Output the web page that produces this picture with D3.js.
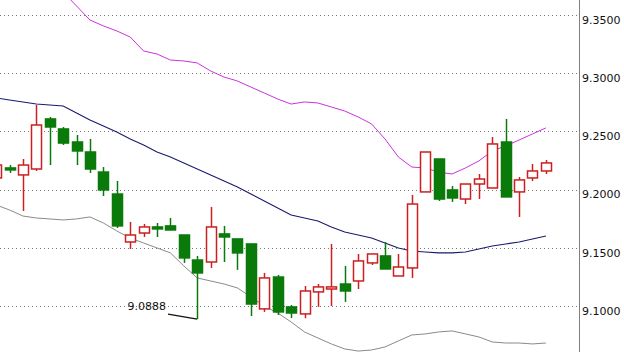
<!DOCTYPE html>
<html>
<head>
<meta charset="utf-8">
<script src="https://cdn.jsdelivr.net/npm/d3@7"></script>
<style>
  body { margin: 0; background: #fff; }
  svg { display: block; }
  .tick text, .note { font-family: "DejaVu Sans", sans-serif; font-size: 11px; fill: #111; }
</style>
</head>
<body>
<div class="chart"></div>
<script>
// candles, oldest first (first one is cut off at the left edge)
var bars = d3.range(42);
var open  = [9.2100, 9.2186, 9.2126, 9.2177, 9.2607, 9.2521, 9.2409, 9.2323, 9.2151, 9.1962,
             9.1550, 9.1627, 9.1679, 9.1688, 9.1610, 9.1395, 9.1378, 9.1619, 9.1576, 9.1533,
             9.0975, 9.1249, 9.0992, 9.0932, 9.1121, 9.1146, 9.1189, 9.1215, 9.1370, 9.1430,
             9.1258, 9.1327, 9.1980, 9.2263, 9.1997, 9.1919, 9.2048, 9.2014, 9.2409, 9.1980,
             9.2100, 9.2160];
var high  = [9.2237, 9.2211, 9.2263, 9.2727, 9.2624, 9.2538, 9.2469, 9.2435, 9.2194, 9.2074,
             9.1722, 9.1705, 9.1713, 9.1756, 9.1610, 9.1430, 9.1851, 9.1688, 9.1576, 9.1533,
             9.1284, 9.1267, 9.1009, 9.1172, 9.1189, 9.1533, 9.1344, 9.1447, 9.1447, 9.1550,
             9.1447, 9.1954, 9.2323, 9.2263, 9.2031, 9.2048, 9.2134, 9.2452, 9.2607, 9.2108,
             9.2220, 9.2254];
var low   = [9.2074, 9.2143, 9.1816, 9.2160, 9.2211, 9.2383, 9.2211, 9.2143, 9.1945, 9.1670,
             9.1490, 9.1593, 9.1593, 9.1653, 9.1370, 9.0888, 9.1327, 9.1378, 9.1310, 9.0914,
             9.0949, 9.0923, 9.0897, 9.0895, 9.0992, 9.1000, 9.1035, 9.1146, 9.1352, 9.1318,
             9.1258, 9.1241, 9.1980, 9.1902, 9.1894, 9.1876, 9.1919, 9.2014, 9.1937, 9.1765,
             9.2074, 9.2134];
var close = [9.2211, 9.2169, 9.2211, 9.2555, 9.2538, 9.2400, 9.2332, 9.2177, 9.1997, 9.1688,
             9.1610, 9.1679, 9.1662, 9.1653, 9.1413, 9.1284, 9.1679, 9.1593, 9.1456, 9.1017,
             9.1241, 9.0949, 9.0940, 9.1129, 9.1164, 9.1164, 9.1129, 9.1387, 9.1447, 9.1318,
             9.1335, 9.1876, 9.2323, 9.1919, 9.1928, 9.2048, 9.2091, 9.2392, 9.1937, 9.2083,
             9.2160, 9.2229];

// bollinger bands
var upper  = [9.4187, 9.4101, 9.4015, 9.3930, 9.3818, 9.3698, 9.3577, 9.3457, 9.3406, 9.3363,
              9.3311, 9.3191, 9.3165, 9.3113, 9.3105, 9.3088, 9.3019, 9.2967, 9.2933, 9.2881,
              9.2830, 9.2778, 9.2735, 9.2753, 9.2744, 9.2710, 9.2675, 9.2624, 9.2564, 9.2435,
              9.2280, 9.2194, 9.2186, 9.2151, 9.2134, 9.2186, 9.2246, 9.2332, 9.2375, 9.2426,
              9.2478, 9.2530];
var middle = [9.2787, 9.2770, 9.2753, 9.2735, 9.2727, 9.2718, 9.2658, 9.2598, 9.2547, 9.2495,
              9.2435, 9.2383, 9.2323, 9.2280, 9.2229, 9.2177, 9.2126, 9.2074, 9.2023, 9.1962,
              9.1902, 9.1842, 9.1782, 9.1756, 9.1730, 9.1679, 9.1636, 9.1610, 9.1584, 9.1541,
              9.1499, 9.1473, 9.1464, 9.1456, 9.1456, 9.1464, 9.1490, 9.1516, 9.1533, 9.1550,
              9.1576, 9.1602];
var lower  = [9.1868, 9.1825, 9.1773, 9.1756, 9.1748, 9.1739, 9.1748, 9.1765, 9.1713, 9.1645,
              9.1584, 9.1541, 9.1499, 9.1456, 9.1344, 9.1241, 9.1215, 9.1189, 9.1155, 9.1078,
              9.1000, 9.0940, 9.0863, 9.0777, 9.0725, 9.0674, 9.0631, 9.0613, 9.0622, 9.0648,
              9.0700, 9.0751, 9.0760, 9.0777, 9.0786, 9.0760, 9.0734, 9.0691, 9.0682, 9.0682,
              9.0674, 9.0682];

var yTicks = [9.1000, 9.1500, 9.2000, 9.2500, 9.3000, 9.3500];
var lowLabel = "9.0888";
var lowBar = 15;

var Width = 624, Height = 352, axisX = 579;

var svg = d3.select(".chart").append("svg")
    .attr("width", Width)
    .attr("height", Height);

var x = d3.scaleBand()
    .domain(bars)
    .range([-10.6, 552.6])
    .padding(0);

var y = d3.scaleLinear()
    .domain([9.10, 9.35])
    .range([306, 15]);

var cx = function(i) { return x(i) + x.bandwidth() / 2; };

// dotted grid
svg.append("g")
  .selectAll("line")
  .data(yTicks)
  .join("line")
    .attr("x1", 0)
    .attr("x2", axisX)
    .attr("y1", d => Math.round(y(d)) + 0.5)
    .attr("y2", d => Math.round(y(d)) + 0.5)
    .attr("stroke", "#777")
    .attr("stroke-dasharray", "1,3");

// right axis
var axis = svg.append("g")
    .attr("transform", "translate(" + axisX + ",0)")
    .call(d3.axisRight(y)
      .tickValues(yTicks)
      .tickSize(0)
      .tickPadding(3)
      .tickFormat(d3.format(".4f")));
axis.select(".domain").remove();
axis.selectAll(".tick text").attr("dy", "0.75em");
svg.append("line")
    .attr("x1", axisX + 0.5).attr("x2", axisX + 0.5)
    .attr("y1", 0).attr("y2", Height)
    .attr("stroke", "#808080");

var plot = svg.append("g");

// bands
var band = function(vals) {
  return d3.line()
    .x((d, i) => cx(i))
    .y(d => y(d))(vals);
};
plot.append("path").attr("d", band(upper))
    .attr("fill", "none").attr("stroke", "#cc33dd").attr("stroke-width", 1);
plot.append("path").attr("d", band(middle))
    .attr("fill", "none").attr("stroke", "#1a1a6e").attr("stroke-width", 1.1);
plot.append("path").attr("d", band(lower))
    .attr("fill", "none").attr("stroke", "#8a8a8a").attr("stroke-width", 1);

// candles
var red = "#cc1f1f", green = "#0a7a0a";
var bw = 10;
var candle = plot.selectAll("g.candle")
  .data(bars)
  .join("g")
    .attr("class", "candle");

candle.append("line")
    .attr("x1", i => Math.round(cx(i)) + 0.5)
    .attr("x2", i => Math.round(cx(i)) + 0.5)
    .attr("y1", i => y(high[i]))
    .attr("y2", i => y(low[i]))
    .attr("stroke", i => close[i] >= open[i] ? red : green)
    .attr("stroke-width", 1.5);

candle.append("rect")
    .attr("x", i => Math.round(cx(i)) + 0.5 - bw / 2)
    .attr("width", bw)
    .attr("y", i => y(Math.max(open[i], close[i])))
    .attr("height", i => Math.max(1.5, Math.abs(y(open[i]) - y(close[i]))))
    .attr("fill", i => close[i] >= open[i] ? "#fff" : green)
    .attr("stroke", i => close[i] >= open[i] ? red : green)
    .attr("stroke-width", 1.5);

// low annotation
svg.append("line")
    .attr("x1", 168).attr("y1", y(low[lowBar]) - 5)
    .attr("x2", cx(lowBar)).attr("y2", y(low[lowBar]))
    .attr("stroke", "#111").attr("stroke-width", 1.2);
svg.append("text")
    .attr("class", "note")
    .attr("x", 166)
    .attr("y", y(low[lowBar]) - 9)
    .attr("text-anchor", "end")
    .text(lowLabel);
</script>
</body>
</html>
